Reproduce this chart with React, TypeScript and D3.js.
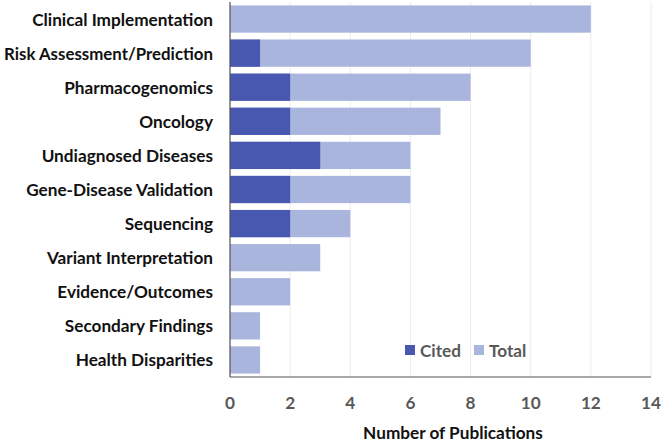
import React from "react";
import * as d3 from "d3";

const categories = [
  "Clinical Implementation",
  "Risk Assessment/Prediction",
  "Pharmacogenomics",
  "Oncology",
  "Undiagnosed Diseases",
  "Gene-Disease Validation",
  "Sequencing",
  "Variant Interpretation",
  "Evidence/Outcomes",
  "Secondary Findings",
  "Health Disparities",
];
const totalValues = [12, 10, 8, 7, 6, 6, 4, 3, 2, 1, 1];
const citedValues = [0, 1, 2, 2, 3, 2, 2, 0, 0, 0, 0];
const xTicks = [0, 2, 4, 6, 8, 10, 12, 14];

const W = 663;
const H = 441;
const DARK = "#4858b0";
const LIGHT = "#aab5de";
const FONT = "Lato, 'Open Sans', sans-serif";
const FS = 17.2;
const LABEL_X = 213;
const MAX_LABEL_W = 209;

function measure(s: string): number {
  if (typeof document === "undefined") return 0;
  const c = document.createElement("canvas").getContext("2d");
  if (!c) return 0;
  c.font = `bold ${FS}px Lato, 'Open Sans', sans-serif`;
  return c.measureText(s).width;
}

export default function App() {
  const x = d3.scaleLinear().domain([0, 14]).range([230, 651]);
  const y = d3.scaleBand<string>().domain(categories).range([2, 377]).paddingInner(0.2).paddingOuter(0.1);
  const bh = y.bandwidth();
  return (
    <svg width={W} height={H} style={{ position: "absolute", left: 0, top: 0 }} fontFamily={FONT}>
      <rect width={W} height={H} fill="#fff" />
      {xTicks.map((t) => (
        <line key={"g" + t} x1={x(t)} x2={x(t)} y1={2} y2={377} stroke="#ececec" strokeWidth={1} />
      ))}
      {categories.map((c, i) => {
        const w = measure(c);
        const fit = w > MAX_LABEL_W ? { textLength: MAX_LABEL_W, lengthAdjust: "spacingAndGlyphs" } : {};
        return (
          <g key={c}>
            <rect x={x(0)} y={y(c)} width={x(totalValues[i]) - x(0)} height={bh} fill={LIGHT} />
            {citedValues[i] > 0 && (
              <rect x={x(0)} y={y(c)} width={x(citedValues[i]) - x(0)} height={bh} fill={DARK} />
            )}
            <text
              x={LABEL_X}
              y={(y(c) as number) + bh / 2}
              textAnchor="end"
              dominantBaseline="central"
              fontWeight="bold"
              fontSize={FS}
              fill="#111"
              {...fit}
            >
              {c}
            </text>
          </g>
        );
      })}
      <line x1={x(0)} x2={x(0)} y1={2} y2={377} stroke="#555" strokeWidth={1.2} />
      <line x1={x(0)} x2={x(14)} y1={377} y2={377} stroke="#555" strokeWidth={1.2} />
      {xTicks.map((t) => (
        <text key={"t" + t} x={x(t)} y={402} textAnchor="middle" dominantBaseline="central" fontWeight="bold" fontSize={FS} fill="#595959">
          {t}
        </text>
      ))}
      <text x={453} y={432} textAnchor="middle" dominantBaseline="central" fontWeight="bold" fontSize={FS} fill="#111">
        Number of Publications
      </text>
      <g>
        <rect x={405} y={345} width={10} height={10} fill={DARK} />
        <text x={420} y={350} dominantBaseline="central" fontWeight="bold" fontSize={FS} fill="#595959">Cited</text>
        <rect x={474} y={345} width={10} height={10} fill={LIGHT} />
        <text x={489} y={350} dominantBaseline="central" fontWeight="bold" fontSize={FS} fill="#595959">Total</text>
      </g>
    </svg>
  );
}
